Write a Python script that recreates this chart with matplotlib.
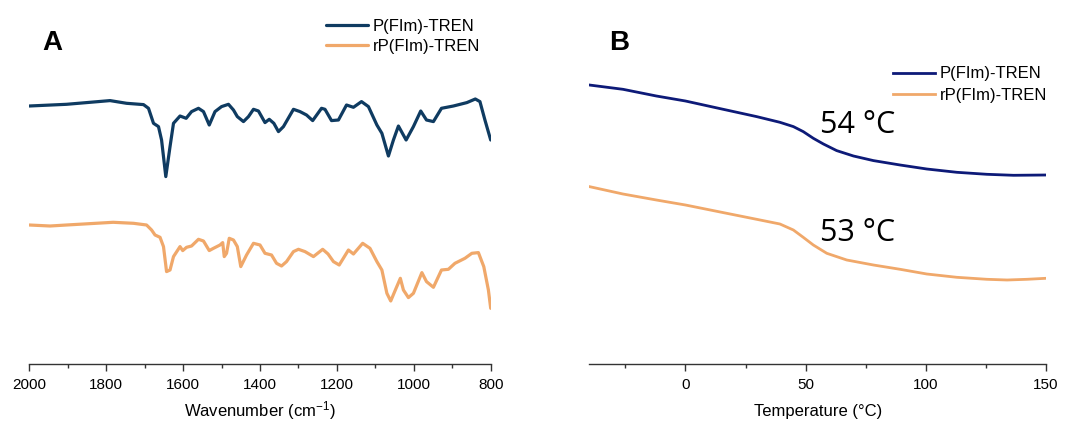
import matplotlib
matplotlib.use('Agg')
from matplotlib import pyplot as plt
from matplotlib.ticker import MultipleLocator

# FTIR spectra (panel A), heights in arbitrary units (offset traces)
wn_p = [2000, 1903, 1790, 1747, 1703, 1690, 1677, 1664, 1656, 1645, 1634, 1625,
        1608, 1592, 1578, 1560, 1547, 1532, 1517, 1500, 1482, 1469, 1459, 1443,
        1430, 1417, 1404, 1387, 1376, 1364, 1352, 1339, 1313, 1296, 1279, 1263,
        1240, 1231, 1214, 1196, 1175, 1157, 1136, 1118, 1096, 1083, 1066, 1053,
        1040, 1020, 1001, 982, 967, 949, 928, 897, 862, 840, 828, 815, 800]
ir_p = [258.3, 260.0, 263.7, 261.0, 259.7, 256.0, 241.0, 237.7, 224.3, 187.7,
        217.7, 241.0, 248.3, 246.0, 252.7, 256.0, 252.7, 239.3, 252.7, 257.7,
        260.0, 254.3, 247.7, 242.7, 247.7, 255.0, 253.3, 241.7, 245.0, 241.0,
        232.7, 237.7, 255.0, 252.7, 249.3, 243.7, 256.0, 255.0, 243.7, 244.3,
        259.3, 257.0, 262.7, 257.7, 239.3, 231.0, 208.3, 224.3, 238.3, 224.3,
        237.7, 253.3, 244.3, 242.7, 256.0, 258.3, 261.7, 265.3, 262.7, 244.3,
        224.3]

wn_rp = [2000, 1946, 1903, 1782, 1729, 1695, 1682, 1673, 1660, 1651, 1643, 1634,
         1625, 1608, 1601, 1591, 1578, 1560, 1547, 1532, 1521, 1504, 1497, 1493,
         1487, 1480, 1469, 1459, 1450, 1435, 1417, 1400, 1387, 1370, 1357, 1344,
         1331, 1313, 1300, 1283, 1261, 1237, 1223, 1209, 1194, 1170, 1157, 1133,
         1114, 1096, 1083, 1070, 1060, 1048, 1035, 1027, 1014, 1001, 979, 967,
         949, 928, 910, 893, 867, 849, 832, 818, 806, 800]
ir_rp = [139.3, 138.3, 139.3, 142.0, 141.0, 139.3, 134.3, 129.3, 127.0, 117.7,
         92.7, 94.3, 107.7, 117.7, 113.7, 117.0, 118.3, 125.0, 123.3, 113.7,
         116.0, 119.3, 121.7, 107.7, 111.0, 126.0, 124.3, 117.7, 97.7, 109.3,
         121.0, 119.3, 111.0, 109.3, 101.0, 98.3, 102.7, 112.7, 115.0, 112.7,
         107.7, 115.0, 110.3, 102.7, 99.3, 114.3, 110.3, 121.0, 116.0, 102.7,
         94.3, 71.0, 63.3, 74.3, 86.0, 74.3, 66.7, 71.0, 91.7, 82.7,
         77.0, 94.3, 95.0, 101.0, 106.0, 111.0, 111.7, 97.7, 74.3, 56.0]

# DSC traces (panel B), heat flow in arbitrary units (offset)
temp_p = [-40, -26, -12.1, 0, 15.7, 29.6, 39.3, 44.9, 49, 53.2, 57.4, 62.9,
          69.9, 78.2, 89.3, 100.4, 112.9, 125.4, 136.5, 150]
dsc_p = [279.3, 275.0, 268.3, 263.3, 255.0, 247.7, 242.0, 237.7, 232.7, 226.0,
         220.3, 213.7, 208.3, 203.7, 199.3, 195.3, 192.0, 190.0, 189.0, 189.3]
temp_rp = [-40, -26, -12.1, 0, 15.7, 29.6, 39.3, 44.9, 49, 53.2, 58.8, 67.1,
           78.2, 89.3, 100.4, 112.9, 125.4, 133.8, 142.1, 150]
dsc_rp = [177.7, 170.3, 164.3, 159.3, 151.7, 145.0, 140.3, 134.3, 127.0, 119.3,
          111.0, 104.3, 99.3, 95.0, 90.3, 87.0, 85.0, 84.3, 85.0, 86.0]

labels = ['P(FIm)-TREN', 'rP(FIm)-TREN']
tg_labels = ['54 °C', '53 °C']

blue_a = '#0f3b61'
navy_b = '#0d1a78'
orange = '#f0a86a'

plt.rcParams['font.family'] = ['Liberation Sans', 'DejaVu Sans']
plt.rcParams['mathtext.default'] = 'regular'

fig = plt.figure(figsize=(10.69, 4.23), dpi=100)
W, H = 1069, 423
bottom = (H - 364.3) / H
height = 364.3 / H
ax1 = fig.add_axes([29.3 / W, bottom, (490.7 - 29.3) / W, height])
ax2 = fig.add_axes([589.3 / W, bottom, (1046 - 589.3) / W, height])

ax1.plot(wn_p, ir_p, c=blue_a, lw=2.3, solid_joinstyle='round',
         solid_capstyle='round', label=labels[0])
ax1.plot(wn_rp, ir_rp, c=orange, lw=2.3, solid_joinstyle='round',
         solid_capstyle='round', label=labels[1])
ax1.set_xlim(2000, 800)
ax1.set_ylim(0, 364.3)
ax1.xaxis.set_major_locator(MultipleLocator(200))
ax1.xaxis.set_minor_locator(MultipleLocator(100))
ax1.set_xlabel('Wavenumber (cm$^{-1}$)', fontsize=12)

ax2.plot(temp_p, dsc_p, c=navy_b, lw=2.0, solid_joinstyle='round', label=labels[0])
ax2.plot(temp_rp, dsc_rp, c=orange, lw=2.0, solid_joinstyle='round', label=labels[1])
ax2.set_xlim(-40, 150)
ax2.set_ylim(0, 364.3)
ax2.xaxis.set_major_locator(MultipleLocator(50))
ax2.xaxis.set_minor_locator(MultipleLocator(25))
ax2.set_xlabel('Temperature (°C)', fontsize=12)
ax2.text(56, 239, tg_labels[0], fontsize=22, family='Open Sans', va='center')
ax2.text(56, 131, tg_labels[1], fontsize=22, family='Open Sans', va='center')

for ax in (ax1, ax2):
    for s in ('top', 'right', 'left'):
        ax.spines[s].set_visible(False)
    ax.spines['bottom'].set_color('#333333')
    ax.spines['bottom'].set_linewidth(1.0)
    ax.set_yticks([])
    ax.tick_params(axis='x', which='major', length=5, width=1, color='#333333',
                   labelsize=11, pad=5)
    ax.tick_params(axis='x', which='minor', length=3, width=1, color='#333333')
    ax.xaxis.label.set_va('center')
    ax.xaxis.set_label_coords(0.5, (364.3 - 411.0) / 364.3)

ax1.legend(loc='upper left', bbox_to_anchor=(319.7 / W, 1 - 12 / H),
           bbox_transform=fig.transFigure, frameon=False, fontsize=12,
           handlelength=2.5, handletextpad=0.3, labelspacing=0.3,
           borderaxespad=0)
ax2.legend(loc='upper left', bbox_to_anchor=(886.6 / W, 1 - 59.7 / H),
           bbox_transform=fig.transFigure, frameon=False, fontsize=12,
           handlelength=2.5, handletextpad=0.3, labelspacing=0.38,
           borderaxespad=0)

fig.text(42 / W, 1 - 43 / H, 'A', fontsize=20, fontweight='bold', va='center')
fig.text(609 / W, 1 - 43 / H, 'B', fontsize=20, fontweight='bold', va='center')

fig.savefig('out.png', dpi=100)
